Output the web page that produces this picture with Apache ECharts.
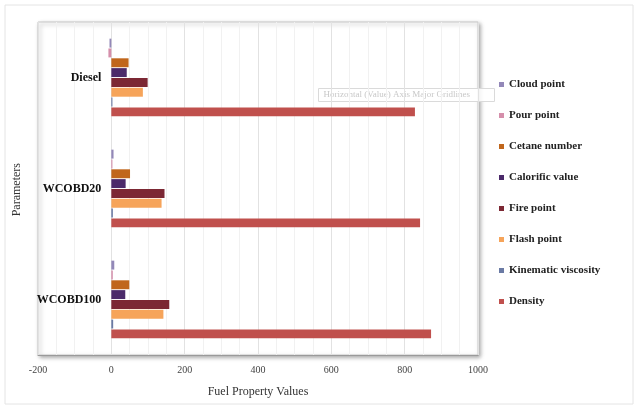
<!DOCTYPE html>
<html>
<head>
<meta charset="utf-8">
<script src="https://cdn.jsdelivr.net/npm/echarts@6/dist/echarts.min.js"></script>
<style>
  html, body { margin: 0; padding: 0; background: #fff; }
  #chart { width: 638px; height: 409px; }
</style>
</head>
<body>
<div id="chart"></div>
<script>
// Fuel samples (bottom to top on the category axis)
const fuels = ['WCOBD100', 'WCOBD20', 'Diesel'];

// Property values per fuel, same order as `fuels`
const cloudPoint = [8, 6, -5];
const pourPoint = [4, 3, -8];
const cetaneNumber = [49, 51, 47];
const calorificValue = [38, 39, 42];
const firePoint = [158, 145, 99];
const flashPoint = [142, 137, 86];
const kinematicViscosity = [5, 4.2, 3];
const density = [872, 842, 828];

// Value axis ticks
const xTicks = [-200, 0, 200, 400, 600, 800, 1000];

const properties = [
  { name: 'Cloud point', data: cloudPoint, color: '#9388b8' },
  { name: 'Pour point', data: pourPoint, color: '#d58fab' },
  { name: 'Cetane number', data: cetaneNumber, color: '#c0661c' },
  { name: 'Calorific value', data: calorificValue, color: '#4b2a6a' },
  { name: 'Fire point', data: firePoint, color: '#7c2834' },
  { name: 'Flash point', data: flashPoint, color: '#f6a45a' },
  { name: 'Kinematic viscosity', data: kinematicViscosity, color: '#6a7aa4' },
  { name: 'Density', data: density, color: '#c0504d' }
];

const serif = '"Liberation Serif", "Times New Roman", serif';
const gridLeft = 38, gridRight = 160;
const plotWidth = 638 - gridLeft - gridRight;
// category labels sit beside the zero line of the value axis
const zeroShift = plotWidth * (0 - xTicks[0]) / (xTicks[xTicks.length - 1] - xTicks[0]);

const chart = echarts.init(document.getElementById('chart'));

chart.setOption({
  animation: false,
  backgroundColor: '#fff',
  grid: {
    left: gridLeft, right: gridRight, top: 22, bottom: 54,
    containLabel: false,
    outerBoundsMode: 'none',
    show: true,
    backgroundColor: '#fff',
    borderColor: '#c8c8c8',
    borderWidth: 1,
    shadowColor: 'rgba(0,0,0,0.35)',
    shadowBlur: 4,
    shadowOffsetX: 2,
    shadowOffsetY: 2
  },
  legend: {
    orient: 'vertical',
    left: 494,
    top: 74,
    itemWidth: 5,
    itemHeight: 5,
    itemGap: 20,
    icon: 'rect',
    data: properties.map(p => p.name),
    textStyle: { fontFamily: serif, fontWeight: 'bold', fontSize: 11, color: '#222' }
  },
  xAxis: {
    type: 'value',
    min: xTicks[0],
    max: xTicks[xTicks.length - 1],
    interval: xTicks[1] - xTicks[0],
    name: 'Fuel Property Values',
    nameLocation: 'middle',
    nameGap: 31,
    nameTextStyle: { fontFamily: serif, fontSize: 12, color: '#333' },
    axisLine: { show: true, lineStyle: { color: '#9a9a9a' } },
    axisTick: { show: false },
    axisLabel: { fontFamily: serif, fontSize: 10, color: '#444', margin: 10, formatter: v => String(v) },
    splitLine: { show: true, lineStyle: { color: '#e2e2e2' } },
    minorTick: { show: false, splitNumber: 4 },
    minorSplitLine: { show: true, lineStyle: { color: '#f1f1f1' } }
  },
  yAxis: {
    type: 'category',
    data: fuels,
    offset: -zeroShift,
    axisLine: { show: false, onZero: false },
    axisTick: { show: false },
    axisLabel: { fontFamily: serif, fontWeight: 'bold', fontSize: 12, color: '#111', margin: 10 },
    splitLine: { show: false }
  },
  series: properties.map(p => ({
    name: p.name,
    type: 'bar',
    data: p.data,
    barGap: '10%',
    barCategoryGap: '30%',
    itemStyle: { color: p.color }
  })),
  graphic: [
    {
      type: 'rect',
      shape: { x: 5, y: 5, width: 628, height: 399 },
      style: { fill: 'none', stroke: '#e4e4e4', lineWidth: 1 },
      z: -1
    },
    {
      type: 'text',
      left: 11,
      top: 163,
      rotation: Math.PI / 2,
      style: { text: 'Parameters', font: '12px ' + serif, fill: '#333' }
    },
    {
      type: 'group',
      left: 318,
      top: 88,
      children: [
        { type: 'rect', shape: { x: 0, y: 0, width: 176, height: 13 },
          style: { fill: 'rgba(255,255,255,0.85)', stroke: '#dadada', lineWidth: 1 } },
        { type: 'text', x: 5, y: 2,
          style: { text: 'Horizontal (Value) Axis Major Gridlines', font: '9px ' + serif, fill: '#c8c8c8' } }
      ],
      z: 10
    }
  ]
});
</script>
</body>
</html>
